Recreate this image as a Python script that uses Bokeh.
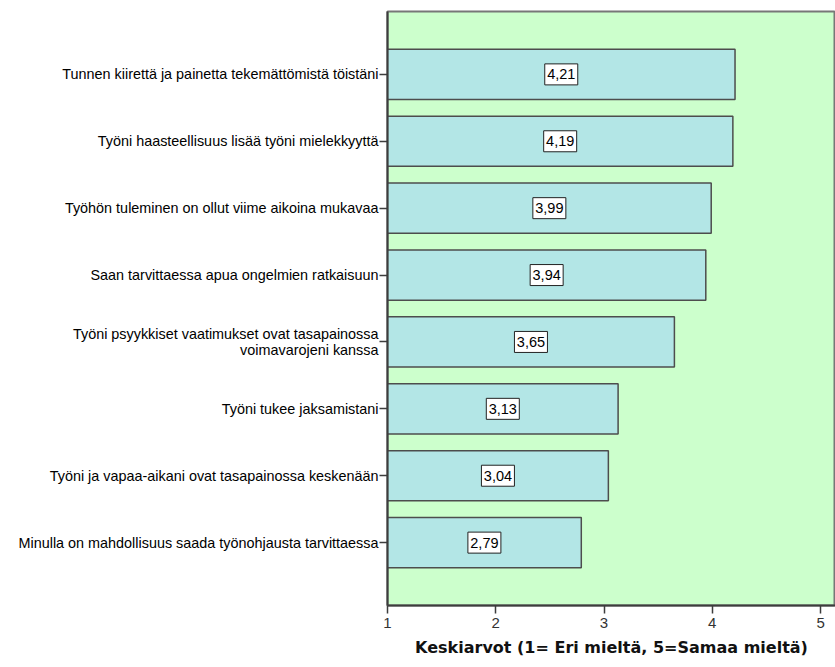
from bokeh.plotting import figure
from bokeh.models import FixedTicker, Range1d, ColumnDataSource
from bokeh.core.properties import value
from bokeh.embed import file_html
from bokeh.resources import INLINE

# Statements (top to bottom) and their mean scores
statements = [
    "Tunnen kiirettä ja painetta tekemättömistä töistäni",
    "Työni haasteellisuus lisää työni mielekkyyttä",
    "Työhön tuleminen on ollut viime aikoina mukavaa",
    "Saan tarvittaessa apua ongelmien ratkaisuun",
    "Työni psyykkiset vaatimukset ovat tasapainossa\nvoimavarojeni kanssa",
    "Työni tukee jaksamistani",
    "Työni ja vapaa-aikani ovat tasapainossa keskenään",
    "Minulla on mahdollisuus saada työnohjausta tarvittaessa",
]
means = [4.21, 4.19, 3.99, 3.94, 3.65, 3.13, 3.04, 2.79]
x_ticks = [1, 2, 3, 4, 5]
x_title = "Keskiarvot (1= Eri mieltä, 5=Samaa mieltä)"

FONT = "Liberation Sans"
positions = list(range(len(statements)))
labels = [f"{m:.2f}".replace(".", ",") for m in means]
mids = [(1 + m) / 2 for m in means]

src = ColumnDataSource(dict(y=positions, right=means, mid=mids, lab=labels))

p = figure(
    width=835, height=667,
    x_range=Range1d(1, 5.138),
    y_range=Range1d(7.94, -0.94),
    output_backend="svg", toolbar_location=None,
    min_border_left=387, min_border_right=0,
    min_border_top=11, min_border_bottom=62,
)
p.background_fill_color = "#ccffcc"
p.border_fill_color = "white"
p.outline_line_color = "#777777"
p.outline_line_width = 2
p.grid.visible = False

p.hbar(y="y", left=1, right="right", height=0.75, source=src,
       fill_color="#b3e6e6", line_color="#4d4d4d", line_width=1.5)

# value boxes in the middle of each bar
p.rect(x="mid", y="y", width=33, height=21, width_units="screen",
       height_units="screen", source=src, fill_color="white",
       line_color="#222222", line_width=1)
p.text(x="mid", y="y", text="lab", source=src, text_align="center",
       text_baseline="middle", text_font=value(FONT),
       text_font_size="14.5px", text_color="black")

# y axis: statements
ya = p.yaxis[0]
ya.ticker = FixedTicker(ticks=positions)
ya.major_label_overrides = {i: s for i, s in enumerate(statements)}
ya.major_label_text_font = FONT
ya.major_label_text_font_size = "14.4px"
ya.major_label_text_line_height = 1.0
ya.major_label_text_color = "black"
ya.major_label_standoff = 1
ya.major_tick_out = 8
ya.major_tick_in = 0
ya.minor_tick_out = 0
ya.minor_tick_in = 0
ya.axis_line_color = "#3d3d3d"
ya.axis_line_width = 2
ya.major_tick_line_color = "#3d3d3d"
ya.major_tick_line_width = 1.5

# x axis: mean scale
xa = p.xaxis[0]
xa.ticker = FixedTicker(ticks=x_ticks)
xa.major_label_text_font = FONT
xa.major_label_text_font_size = "15px"
xa.major_label_text_color = "#333333"
xa.major_label_standoff = 4
xa.major_tick_out = 8
xa.major_tick_in = 0
xa.minor_tick_out = 0
xa.minor_tick_in = 0
xa.axis_line_color = "#3d3d3d"
xa.axis_line_width = 2
xa.major_tick_line_color = "#3d3d3d"
xa.major_tick_line_width = 1.5
xa.axis_label = x_title
xa.axis_label_text_font = "DejaVu Sans"
xa.axis_label_text_font_size = "16px"
xa.axis_label_text_font_style = "bold"
xa.axis_label_text_color = "#111111"
xa.axis_label_standoff = 7

open("out.html", "w").write(file_html(p, INLINE))
